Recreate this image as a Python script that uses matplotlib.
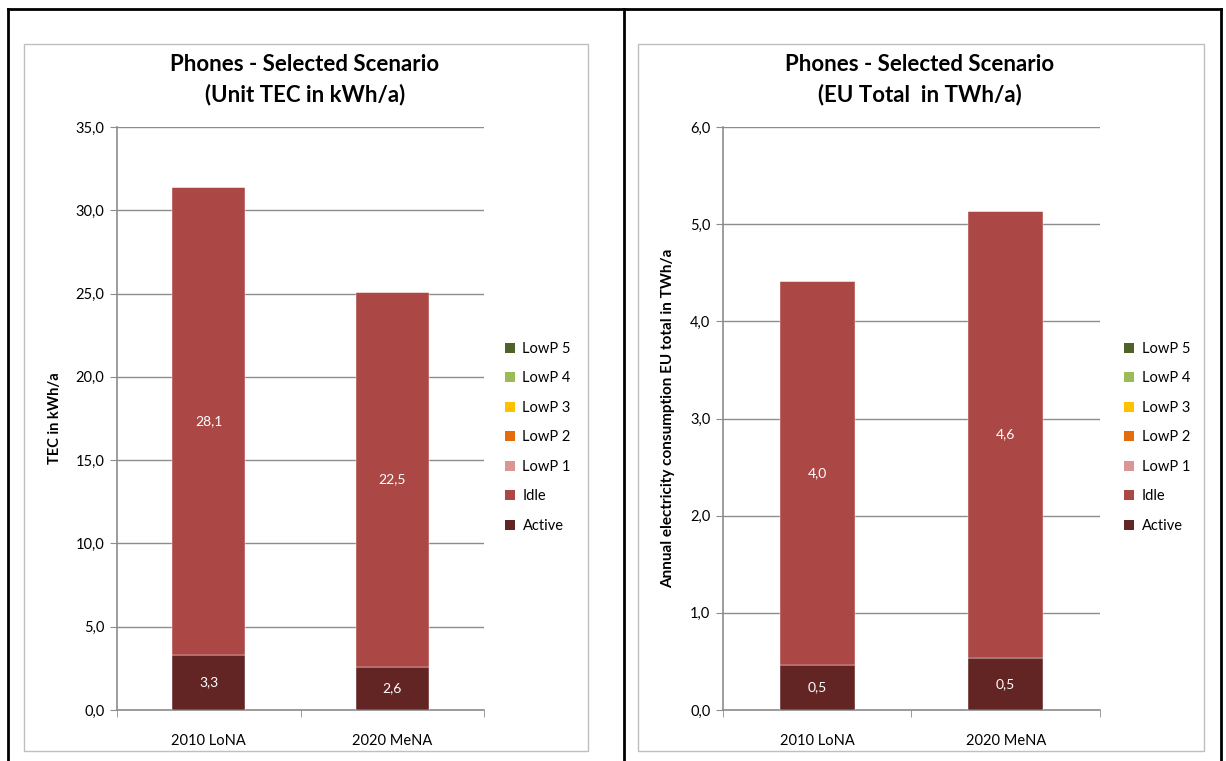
import matplotlib
matplotlib.use("Agg")
import matplotlib.pyplot as plt
from matplotlib.patches import Rectangle, Patch
from matplotlib.lines import Line2D
from matplotlib.ticker import FuncFormatter, FixedLocator

plt.rcParams['font.family'] = ['Lato', 'DejaVu Sans']

## data
scenarios = ["2010 LoNA", "2020 MeNA"]
series = ["Active", "Idle", "LowP 1", "LowP 2", "LowP 3", "LowP 4", "LowP 5"]
colors = ["#632523", "#AB4744", "#D99694", "#E46C0A", "#FFC000", "#9BBB59", "#4F6228"]

tec_active = [3.3, 2.6]
tec_idle = [28.1, 22.5]
eu_active = [0.46, 0.54]
eu_idle = [3.96, 4.60]
lowp_zero = [0.0, 0.0]

titles = ["Phones - Selected Scenario\n(Unit TEC in kWh/a)",
          "Phones - Selected Scenario\n(EU Total  in TWh/a)"]
ylabels = ["TEC in kWh/a", "Annual electricity consumption EU total in TWh/a"]

W, H = 1226, 761
fig = plt.figure(figsize=(W / 100, H / 100), dpi=100)

def fx(px):
    return px / W

def fy(py):
    return 1 - py / H

# outer black frame and the grey chart-area boxes
for x in (8, 624, 1221):
    fig.add_artist(Line2D([fx(x), fx(x)], [fy(9), fy(761)], color="black", lw=2))
fig.add_artist(Line2D([fx(8), fx(1221)], [fy(9), fy(9)], color="black", lw=2))
for (x0, x1) in ((24, 588), (638, 1204)):
    fig.add_artist(Rectangle((fx(x0), fy(751)), fx(x1) - fx(x0), fy(44) - fy(751),
                             fill=False, edgecolor="#BFBFBF", lw=1))

def make_panel(x0, x1, ymax, ystep, active, idle, title, ylabel, ylab_x, ylab_size,
               title_x, leg_x):
    ax = fig.add_axes([fx(x0), fy(710), fx(x1) - fx(x0), fy(127) - fy(710)])
    pos = range(len(scenarios))
    values = [active, idle] + [lowp_zero] * 5
    bottom = [0.0, 0.0]
    handles = []
    for name, vals, col in zip(series, values, colors):
        bars = ax.bar(pos, vals, width=0.4, bottom=bottom, color=col,
                      edgecolor="white", linewidth=0.3, zorder=3)
        if name in ("Active", "Idle"):
            for b, v, bt in zip(bars, vals, bottom):
                ax.text(b.get_x() + b.get_width() / 2, bt + v / 2,
                        ("%.1f" % v).replace(".", ","),
                        ha="center", va="center", color="white", fontsize=10, zorder=4)
        bottom = [a + b for a, b in zip(bottom, vals)]
        handles.append(Patch(facecolor=col, edgecolor="none", label=name))

    ax.set_xlim(-0.5, 1.5)
    ax.set_ylim(0, ymax)
    ax.yaxis.set_major_locator(FixedLocator([ystep * i for i in range(int(round(ymax / ystep)) + 1)]))
    ax.yaxis.set_major_formatter(FuncFormatter(lambda v, p: ("%.1f" % v).replace(".", ",")))
    ax.grid(axis="y", color="#8C8C8C", lw=1, zorder=0)
    ax.set_xticks(list(pos))
    ax.set_xticklabels(scenarios)
    ax.set_xticks([-0.5, 0.5, 1.5], minor=True)
    ax.tick_params(axis="x", which="major", length=0, pad=17, labelsize=10.5)
    ax.tick_params(axis="x", which="minor", length=5, color="#8C8C8C")
    ax.tick_params(axis="y", length=5, color="#8C8C8C", labelsize=10.5, pad=4)
    for s in ("top", "right"):
        ax.spines[s].set_visible(False)
    for s in ("left", "bottom"):
        ax.spines[s].set_color("#8C8C8C")
        ax.spines[s].set_linewidth(1.2)

    fig.text(fx(title_x), fy(80), title, ha="center", va="center",
             fontsize=16, fontweight="bold", linespacing=1.5)
    fig.text(fx(ylab_x), fy(418), ylabel, ha="center", va="center", rotation=90,
             fontsize=ylab_size, fontweight="bold")

    fig.legend(handles=handles[::-1], loc="upper left",
               bbox_to_anchor=(fx(leg_x), fy(342)), frameon=False,
               fontsize=10.5, handlelength=0.7, handleheight=0.7,
               handletextpad=0.5, labelspacing=1.06, borderaxespad=0, borderpad=0)
    return ax

make_panel(117, 484, 35.0, 5.0, tec_active, tec_idle, titles[0], ylabels[0],
           55, 10.5, 305, 505)
make_panel(723, 1100, 6.0, 1.0, eu_active, eu_idle, titles[1], ylabels[1],
           668, 11, 920, 1124)

fig.savefig("out.png", dpi=100)
